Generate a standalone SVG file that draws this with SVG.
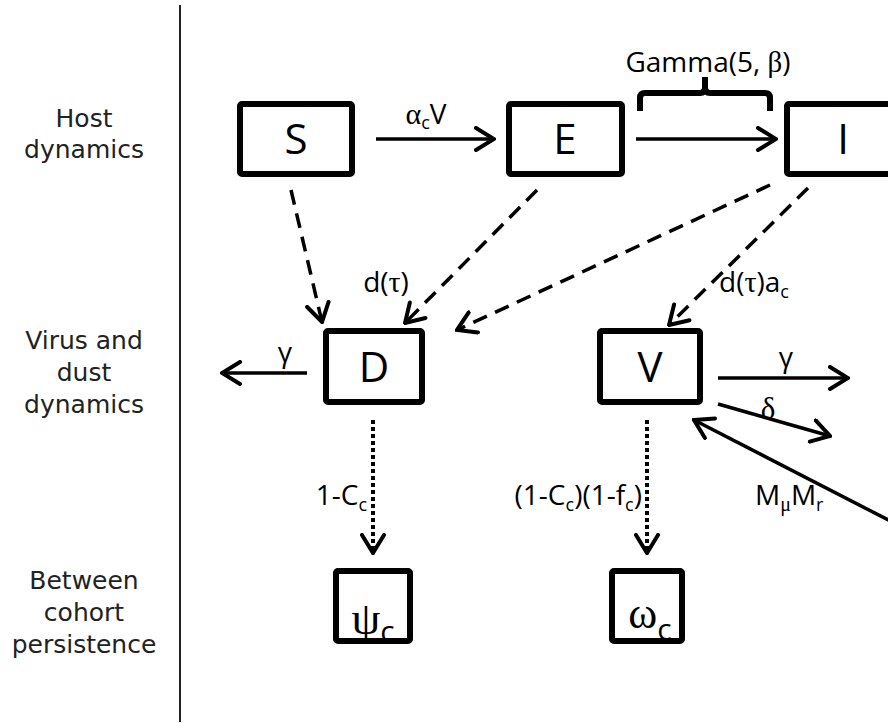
<svg xmlns="http://www.w3.org/2000/svg" width="888" height="728" viewBox="0 0 888 728">
<style>
.box{fill:#fff;stroke:#000;stroke-width:6;stroke-linejoin:round}
.lbl{font-family:"DejaVu Sans",sans-serif;font-size:25px;text-anchor:middle;fill:#222}
.nt{font-family:"Open Sans","Liberation Sans",sans-serif;font-size:42px;text-anchor:middle;fill:#000}
.t{font-family:"Open Sans","Liberation Sans",sans-serif;font-size:28px;fill:#000}
.g{font-family:"Liberation Serif","DejaVu Serif",serif}
.sub{font-size:18px}
.ln{fill:none;stroke:#000;stroke-width:3.5}
.dash{stroke-dasharray:15 9}
.dot{stroke-dasharray:4 3;stroke-width:4}
</style>
<defs>
<marker id="ah" viewBox="0 0 22 26" refX="20" refY="13" markerWidth="22" markerHeight="26" markerUnits="userSpaceOnUse" orient="auto">
<path d="M2,2 L20,13 L2,24" fill="none" stroke="#000" stroke-width="4" stroke-linecap="round" stroke-linejoin="miter"/>
</marker>
</defs>
<rect width="888" height="728" fill="#fff"/>
<line x1="180" y1="5" x2="180" y2="722" stroke="#222" stroke-width="2"/>
<g id="row-labels">
<text class="lbl" x="84" y="127">Host</text>
<text class="lbl" x="84" y="158">dynamics</text>
<text class="lbl" x="84" y="349">Virus and</text>
<text class="lbl" x="84" y="381">dust</text>
<text class="lbl" x="84" y="413">dynamics</text>
<text class="lbl" x="84" y="589">Between</text>
<text class="lbl" x="84" y="621">cohort</text>
<text class="lbl" x="84" y="653">persistence</text>
</g>
<g id="connectors">
<path class="ln" d="M376,139 L494,139" marker-end="url(#ah)"/>
<path class="ln" d="M636,139 L776,139" marker-end="url(#ah)"/>
<path d="M640,111 V98 Q640,93 645,93 H700 Q705,93 705,87 V77 M705,87 Q705,93 710,93 H765 Q770,93 770,98 V111" fill="none" stroke="#000" stroke-width="6"/>
<path class="ln dash" d="M291,190 L322,322" marker-end="url(#ah)"/>
<path class="ln dash" d="M537,190 L405,323" marker-end="url(#ah)"/>
<path class="ln dash" d="M770,185 L457,330" marker-end="url(#ah)"/>
<path class="ln dash" d="M808,188 L669,325" marker-end="url(#ah)"/>
<path class="ln" d="M307,373 L222,373" marker-end="url(#ah)"/>
<path class="ln" d="M718,378 L848,378" marker-end="url(#ah)"/>
<path class="ln" d="M718,404 L830,436" marker-end="url(#ah)"/>
<path class="ln" d="M900,526 L694,420" marker-end="url(#ah)"/>
<path class="ln dot" d="M373,420 L373,553" marker-end="url(#ah)"/>
<path class="ln dot" d="M647,420 L647,553" marker-end="url(#ah)"/>
</g>
<g id="edge-labels">
<text class="t" x="426" y="124" text-anchor="middle"><tspan class="g" style="font-size:30px">α</tspan><tspan class="sub" dy="5">c</tspan><tspan dy="-5">V</tspan></text>
<text class="t" x="708" y="72" text-anchor="middle">Gamma(5, <tspan class="g" style="font-size:29px">β</tspan>)</text>
<text class="t" x="386" y="292" text-anchor="middle">d(<tspan class="g" style="font-size:30px">τ</tspan>)</text>
<text class="t" x="719" y="292">d(<tspan class="g" style="font-size:30px">τ</tspan>)a<tspan class="sub" dy="6">c</tspan></text>
<text class="t" x="285" y="362" text-anchor="middle">γ</text>
<text class="t" x="786" y="367" text-anchor="middle">γ</text>
<text class="t g" x="768" y="419" text-anchor="middle" style="font-size:31px">δ</text>
<text class="t" x="755" y="505">M<tspan class="g sub" dy="6" style="font-size:20px">μ</tspan><tspan dy="-6">M</tspan><tspan class="sub" dy="6">r</tspan></text>
<text class="t" x="367" y="505" text-anchor="end">1-C<tspan class="sub" dy="6">c</tspan></text>
<text class="t" x="642" y="505" text-anchor="end">(1-C<tspan class="sub" dy="6">c</tspan><tspan dy="-6">)(1-f</tspan><tspan class="sub" dy="6">c</tspan><tspan dy="-6">)</tspan></text>
</g>
<g id="node-S"><rect class="box" x="240" y="104" width="112" height="70" rx="2"/><text class="nt" x="296" y="154">S</text></g>
<g id="node-E"><rect class="box" x="509" y="104" width="113" height="70" rx="2"/><text class="nt" x="565" y="154">E</text></g>
<g id="node-I"><rect class="box" x="787" y="104" width="120" height="70" rx="2"/><text class="nt" x="843" y="154">I</text></g>
<g id="node-D"><rect class="box" x="326" y="331" width="96" height="71" rx="2"/><text class="nt" x="374" y="382">D</text></g>
<g id="node-V"><rect class="box" x="600" y="331" width="100" height="71" rx="2"/><text class="nt" x="650" y="382">V</text></g>
<g id="node-psi"><rect class="box" x="336" y="571" width="74" height="70" rx="2"/><text class="nt" x="373" y="634"><tspan class="g" style="font-size:46px">ψ</tspan><tspan style="font-size:30px" dy="8">c</tspan></text></g>
<g id="node-omega"><rect class="box" x="612" y="571" width="70" height="70" rx="2"/><text class="nt" x="650" y="628"><tspan class="g" style="font-size:44px">ω</tspan><tspan style="font-size:30px" dy="12">c</tspan></text></g>
</svg>
